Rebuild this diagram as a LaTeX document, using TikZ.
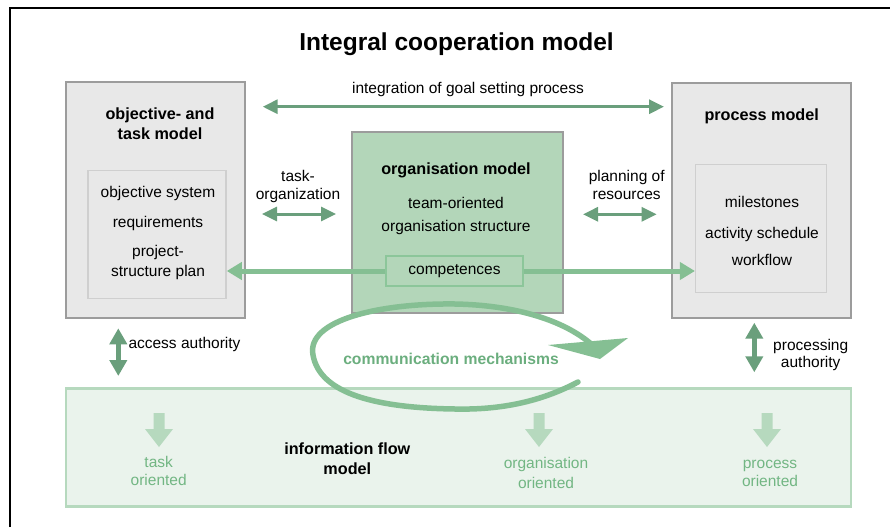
\documentclass[tikz,border=0pt]{standalone}
\usepackage{fontspec}
\setmainfont{Liberation Sans}
\usetikzlibrary{arrows.meta}
\definecolor{boxgray}{HTML}{E8E8E8}
\definecolor{framegray}{HTML}{9C9C9C}
\definecolor{innergray}{HTML}{CFCFCF}
\definecolor{orggreen}{HTML}{B3D6B9}
\definecolor{compgreen}{HTML}{8CC69A}
\definecolor{darkgreen}{HTML}{6A9F7C}
\definecolor{lightgreen}{HTML}{85BF93}
\definecolor{infofill}{HTML}{EAF3EC}
\definecolor{infoborder}{HTML}{B6D9BE}
\definecolor{labelgreen}{HTML}{72B683}
\definecolor{commgreen}{HTML}{6BAE7E}
\begin{document}
\begin{tikzpicture}[x=1pt, y=-1pt, font=\fontsize{15.5}{18}\selectfont, >={Triangle[length=15pt,width=14pt]},
  box/.style={draw=framegray, line width=2pt, fill=boxgray, rectangle},
  inbox/.style={draw=innergray, line width=1.5pt, fill=boxgray, rectangle},
  head/.style={font=\fontsize{16.2}{19.5}\selectfont\bfseries, align=center},
  lbl/.style={align=center},
  darr/.style={<->, draw=darkgreen, line width=3pt},
  varr/.style={{Triangle[length=16pt,width=17pt]}-{Triangle[length=16pt,width=17pt]}, draw=darkgreen, line width=5pt},
  larr/.style={-{Triangle[length=15pt,width=17pt]}, draw=lightgreen, line width=5pt}]
  \useasboundingbox (0,0) rectangle (890,527);
  \draw[line width=2.2pt] (10,527) |- (890,8);

  \node[font=\fontsize{24.5}{28}\selectfont\bfseries, anchor=base] (title) at (456.5,51) {Integral cooperation model};

  \node[box, minimum width=179pt, minimum height=236pt] (objbox) at (155.8,200) {};
  \node[inbox, minimum width=138pt, minimum height=128pt] (objin) at (157,234.5) {};
  \node[head] (objtitle) at (160,123.8) {objective- and\\task model};
  \foreach \t/\y [count=\i] in {objective system/197.7, requirements/227.3, project-/256.7, structure plan/276.7}
    \node[anchor=base] (objl\i) at (158,\y) {\t};

  \node[box, fill=orggreen, minimum width=211pt, minimum height=181pt] (orgbox) at (457.5,222.5) {};
  \node[head, anchor=base] (orgtitle) at (456,174) {organisation model};
  \node[lbl, font=\fontsize{15.5}{23.4}\selectfont] (orgtext) at (456,216) {team-oriented\\organisation structure};
  \node[draw=compgreen, line width=2pt, fill=orggreen, minimum width=137pt, minimum height=30pt] (comp) at (454.5,271) {competences};

  \node[box, minimum width=179pt, minimum height=235pt] (procbox) at (761.3,200.3) {};
  \node[inbox, minimum width=131pt, minimum height=128pt] (procin) at (761.2,228.3) {};
  \node[head, anchor=base] (proctitle) at (761.7,120) {process model};
  \foreach \t/\y [count=\i] in {milestones/207.7, activity schedule/238.3, workflow/265}
    \node[anchor=base] (procl\i) at (762,\y) {\t};

  \node[draw=infoborder, line width=2.5pt, fill=infofill, minimum width=785pt, minimum height=118pt] (infobox) at (458.5,447.4) {};
  \node[head] (infotitle) at (347.3,458.8) {information flow\\model};
  \foreach \x in {159,539,767}
    \fill[infoborder] (\x-5.5,413) -- (\x+5.5,413) -- (\x+5.5,429) -- (\x+14,429) -- (\x,447) -- (\x-14,429) -- (\x-5.5,429) -- cycle;
  \node[lbl, text=labelgreen] (tasklbl) at (158.7,471.4) {task\\oriented};
  \node[lbl, text=labelgreen, font=\fontsize{15.5}{20}\selectfont] (orglbl) at (546,472.5) {organisation\\oriented};
  \node[lbl, text=labelgreen] (proclbl) at (770,473.3) {process\\oriented};

  \coordinate (intl) at (262.7,106.7);
  \coordinate (intr) at (664,106.7);
  \draw[darr] (intl) -- (intr);
  \node[anchor=base] (intlbl) at (468,93.5) {integration of goal setting process};

  \coordinate (tol) at (262,214);
  \coordinate (tor) at (336,214);
  \draw[darr] (tol) -- (tor);
  \node[lbl] (tolbl) at (298,186.4) {task-\\organization};

  \coordinate (prl) at (583,214.3);
  \coordinate (prr) at (656.7,214.3);
  \draw[darr] (prl) -- (prr);
  \node[lbl] (prlbl) at (626.7,184.8) {planning of\\resources};

  \draw[larr] (comp.west) -- (comp.west -| objin.east);
  \draw[larr] (comp.east) -- (comp.east -| procin.west);

  \coordinate (acct) at (118.3,328.3);
  \coordinate (accb) at (118.3,376);
  \draw[varr] (acct) -- (accb);
  \node[anchor=base west, inner sep=0pt] (acclbl) at (128.3,348.3) {access authority};

  \coordinate (prct) at (754.3,322.7);
  \coordinate (prcb) at (754.3,372.3);
  \draw[varr] (prct) -- (prcb);
  \node[lbl, font=\fontsize{15.5}{16.6}\selectfont] (prclbl) at (810.7,355) {processing\\authority};

  \node[font=\fontsize{15.7}{18}\selectfont\bfseries, text=commgreen, anchor=base] (comm) at (451,364.3) {communication mechanisms};
  \draw[lightgreen, line width=5.5pt, line cap=round, line join=round]
    (578,382) .. controls (540,402) and (500,410) .. (455,409)
    .. controls (380,408) and (320,395) .. (313,355)
    .. controls (306,320) and (380,303) .. (455,304)
    .. controls (510,305) and (560,318) .. (590,343);
  \fill[lightgreen] (548,345) -- (628,338) -- (600,359) -- cycle;
\end{tikzpicture}
\end{document}
